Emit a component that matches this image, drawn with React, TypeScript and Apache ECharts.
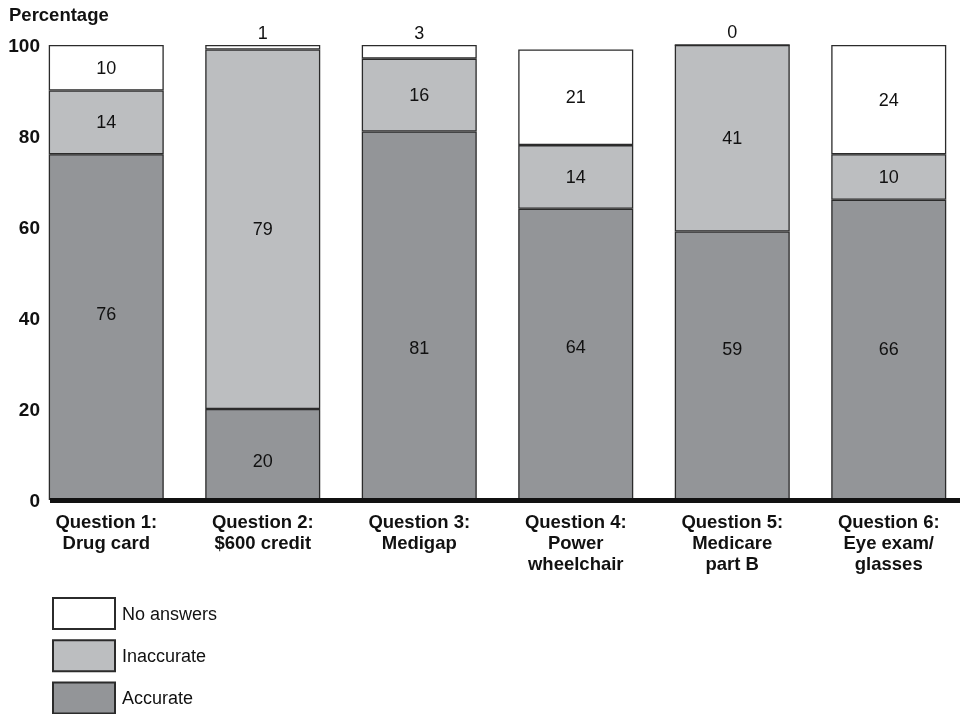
import React, { useEffect, useRef } from "react";
import * as echarts from "echarts";

const categories = [
  "Question 1:\nDrug card",
  "Question 2:\n$600 credit",
  "Question 3:\nMedigap",
  "Question 4:\nPower\nwheelchair",
  "Question 5:\nMedicare\npart B",
  "Question 6:\nEye exam/\nglasses",
];
const accurate = [76, 20, 81, 64, 59, 66];
const inaccurate = [14, 79, 16, 14, 41, 10];
const noAnswers = [10, 1, 3, 21, 0, 24];
const yTicks = [0, 20, 40, 60, 80, 100];

// label placement tweaks (pixels, style only)
const accurateLabelShift = [-13, 6, 32, -7, -17, -1];

const FONT = "'Liberation Sans', Arial, Helvetica, sans-serif";

export default function App() {
  const ref = useRef<HTMLDivElement>(null);
  useEffect(() => {
    if (!ref.current) return;
    const chart = echarts.init(ref.current, undefined, { renderer: "svg" });
    const border = { borderColor: "#2b2b2b", borderWidth: 1.3 };
    const lbl = { show: true, position: "inside", color: "#111", fontSize: 18, fontFamily: FONT };
    const mk = (name: string, vals: number[], color: string, smallTop: boolean, shifts?: number[]) => ({
      name,
      type: "bar",
      stack: "total",
      barWidth: 115,
      itemStyle: { color, ...border },
      label: lbl,
      data: vals.map((v, i) => {
        if (smallTop && v < 5) {
          return {
            value: v,
            label: { show: true, position: "top", distance: 3, color: "#111", fontSize: 18, fontFamily: FONT },
          };
        }
        if (shifts) {
          return { value: v, label: { ...lbl, offset: [0, shifts[i]] } };
        }
        return { value: v };
      }),
    });
    chart.setOption({
      animation: false,
      textStyle: { fontFamily: FONT },
      title: {
        text: "Percentage",
        left: 9,
        top: 5,
        padding: 0,
        textStyle: { fontSize: 18.5, fontWeight: "bold", color: "#111", fontFamily: FONT },
      },
      legend: {
        orient: "vertical",
        left: 52,
        top: 597,
        height: 140,
        padding: 0,
        itemWidth: 62,
        itemHeight: 31,
        itemGap: 9.2,
        icon: "rect",
        data: ["No answers", "Inaccurate", "Accurate"],
        textStyle: { fontSize: 18, color: "#111", fontFamily: FONT, padding: [0, 0, 0, 2] },
      },
      grid: { left: 28, right: -15, top: 45, bottom: 214, containLabel: false },
      xAxis: {
        type: "category",
        data: categories,
        axisLine: { show: false },
        axisTick: { show: false },
        axisLabel: {
          margin: 11,
          interval: 0,
          fontSize: 18.5,
          fontWeight: "bold",
          lineHeight: 21,
          color: "#111",
          fontFamily: FONT,
        },
      },
      yAxis: {
        type: "value",
        min: 0,
        max: 100,
        interval: 20,
        offset: -20,
        axisLine: { show: false },
        axisTick: { show: false },
        splitLine: { show: false },
        axisLabel: {
          margin: 8,
          fontSize: 19,
          fontWeight: "bold",
          color: "#111",
          fontFamily: FONT,
          formatter: (v: number) => (yTicks.includes(v) ? String(v) : ""),
        },
      },
      graphic: [
        { type: "rect", shape: { x: 50, y: 498, width: 910, height: 5 }, style: { fill: "#111" }, z: 100 },
      ],
      series: [
        mk("Accurate", accurate, "#939598", false, accurateLabelShift),
        mk("Inaccurate", inaccurate, "#bcbec0", false),
        mk("No answers", noAnswers, "#ffffff", true),
      ],
    });
    return () => chart.dispose();
  }, []);
  return (
    <div
      ref={ref}
      style={{ position: "fixed", left: 0, top: 0, width: 967, height: 714 }}
    />
  );
}
